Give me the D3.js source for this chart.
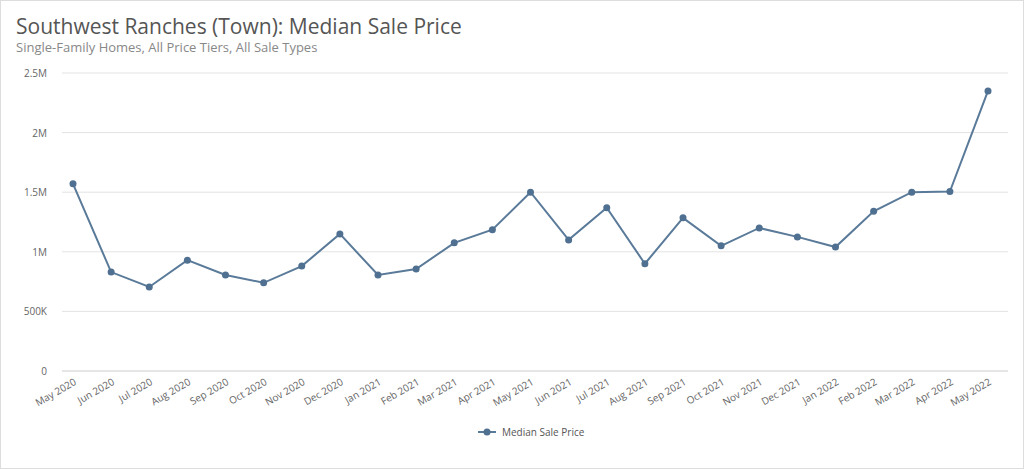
<!DOCTYPE html>
<html><head><meta charset="utf-8">
<script src="https://cdn.jsdelivr.net/npm/d3@7"></script>
<style>body{margin:0;background:#fff;font-family:"Open Sans",sans-serif}</style>
</head><body><svg id="c" width="1024" height="469"></svg>
<script>
const months=["May 2020","Jun 2020","Jul 2020","Aug 2020","Sep 2020","Oct 2020","Nov 2020","Dec 2020","Jan 2021","Feb 2021","Mar 2021","Apr 2021","May 2021","Jun 2021","Jul 2021","Aug 2021","Sep 2021","Oct 2021","Nov 2021","Dec 2021","Jan 2022","Feb 2022","Mar 2022","Apr 2022","May 2022"];
const prices=[1570000,830000,705000,930000,805000,740000,880000,1150000,805000,855000,1075000,1185000,1500000,1100000,1370000,900000,1285000,1050000,1200000,1125000,1040000,1340000,1500000,1505000,2350000];
const yTicks=[0,500000,1000000,1500000,2000000,2500000];
const yLabels=["0","500K","1M","1.5M","2M","2.5M"];
const seriesName="Median Sale Price";
const svg=d3.select("#c");
svg.append("rect").attr("x",0.5).attr("y",0.5).attr("width",1023).attr("height",468).attr("fill","none").attr("stroke","#ddd");
svg.append("text").attr("x",16).attr("y",34).attr("font-size",21).attr("fill","#555").text("Southwest Ranches (Town): Median Sale Price");
svg.append("text").attr("x",16).attr("y",52).attr("font-size",13).attr("fill","#888").text("Single-Family Homes, All Price Tiers, All Sale Types");
const x=d3.scalePoint().domain(months).range([73,988]);
const y=d3.scaleLinear().domain([0,2500000]).range([371,73]);
const g=svg.append("g");
yTicks.forEach((t,i)=>{
 g.append("line").attr("x1",62).attr("x2",1008).attr("y1",y(t)).attr("y2",y(t)).attr("stroke",i==0?"#ccc":"#e3e3e3");
 g.append("text").attr("x",47).attr("y",y(t)+4).attr("text-anchor","end").attr("font-size",10).attr("fill","#666").text(yLabels[i]);
});
months.forEach(m=>{
 g.append("text").attr("transform",`translate(${x(m)+4},${384}) rotate(-30)`).attr("text-anchor","end").attr("font-size",10).attr("fill","#666").text(m);
});
const line=d3.line().x((d,i)=>x(months[i])).y(d=>y(d));
g.append("path").datum(prices).attr("d",line).attr("fill","none").attr("stroke","#5a7a99").attr("stroke-width",2);
g.selectAll("circle.p").data(prices).enter().append("circle").attr("cx",(d,i)=>x(months[i])).attr("cy",d=>y(d)).attr("r",3.5).attr("fill","#4f7090");
const lg=svg.append("g");
lg.append("line").attr("x1",478).attr("x2",496).attr("y1",432).attr("y2",432).attr("stroke","#5a7a99").attr("stroke-width",2);
lg.append("circle").attr("cx",487).attr("cy",432).attr("r",3.5).attr("fill","#4f7090");
lg.append("text").attr("x",502).attr("y",436).attr("font-size",10).attr("fill","#555").text(seriesName);
</script></body></html>
